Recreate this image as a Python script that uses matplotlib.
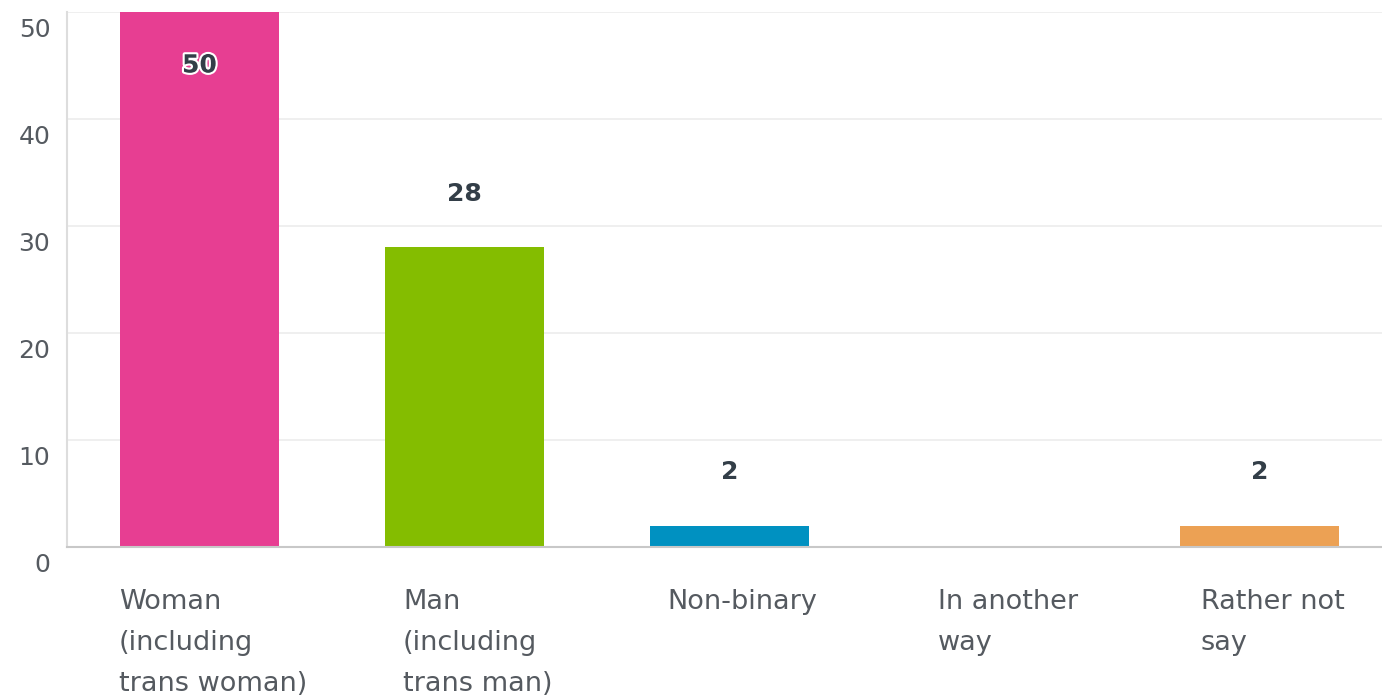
import matplotlib.pyplot as plt
import matplotlib.patheffects as pe
import matplotlib.transforms as mtransforms

# Survey answers and counts
categories = ['Woman\n(including\ntrans woman)', 'Man\n(including\ntrans man)',
              'Non-binary', 'In another\nway', 'Rather not\nsay']
counts = [50, 28, 2, 0, 2]
bar_colors = ['#E73E92', '#84BD00', '#0091C1', '#7D6AB0', '#ECA154']
y_ticks = [0, 10, 20, 30, 40, 50]

plt.rcParams['font.family'] = ['DejaVu Sans']

fig = plt.figure(figsize=(13.82, 6.99), dpi=100)
ax = fig.add_axes([67 / 1382, 1 - 547 / 699, 1 - 67 / 1382, (547 - 12) / 699])

x = list(range(len(categories)))
ax.bar(x, counts, width=0.6, color=bar_colors, zorder=3)

ax.set_xlim(-0.5, -0.5 + 1315 / 265)
ax.set_ylim(0, 50)
ax.set_yticks(y_ticks)
ax.set_yticklabels([str(t) for t in y_ticks], fontsize=18, color='#555A60')
ax.tick_params(axis='y', length=0, pad=12)
ax.tick_params(axis='x', length=0, labelbottom=False)
offset = mtransforms.ScaledTranslation(0, -4 / 72, fig.dpi_scale_trans)
for lbl in ax.get_yticklabels():
    lbl.set_verticalalignment('top')
    lbl.set_transform(lbl.get_transform() + offset)

ax.grid(axis='y', color='#ECECEC', linewidth=1.2, zorder=0)
for side in ['top', 'right']:
    ax.spines[side].set_visible(False)
ax.spines['left'].set_color('#DDDDDD')
ax.spines['left'].set_linewidth(1.5)
ax.spines['bottom'].set_color('#C8C8C8')
ax.spines['bottom'].set_linewidth(1.5)
ax.spines['bottom'].set_zorder(4)

# value labels
for xi, v in zip(x, counts):
    if v == 0:
        continue
    if v + 5 < 48:
        ax.text(xi, v + 5, str(v), ha='center', va='center', fontsize=18,
                fontweight='bold', color='#333E48', zorder=5)
    else:
        ax.text(xi, v - 5, str(v), ha='center', va='center', fontsize=18,
                fontweight='bold', color='#333E48', zorder=5,
                path_effects=[pe.withStroke(linewidth=3, foreground='white')])

# category labels below the axis
trans = mtransforms.blended_transform_factory(ax.transData, ax.transAxes)
for xi, c in zip(x, categories):
    ax.text(xi + 0.05, -0.078, c, transform=trans, ha='center', va='top',
            multialignment='left', fontsize=19.5, color='#555A60', linespacing=1.75)

fig.savefig('out.png', dpi=100)
